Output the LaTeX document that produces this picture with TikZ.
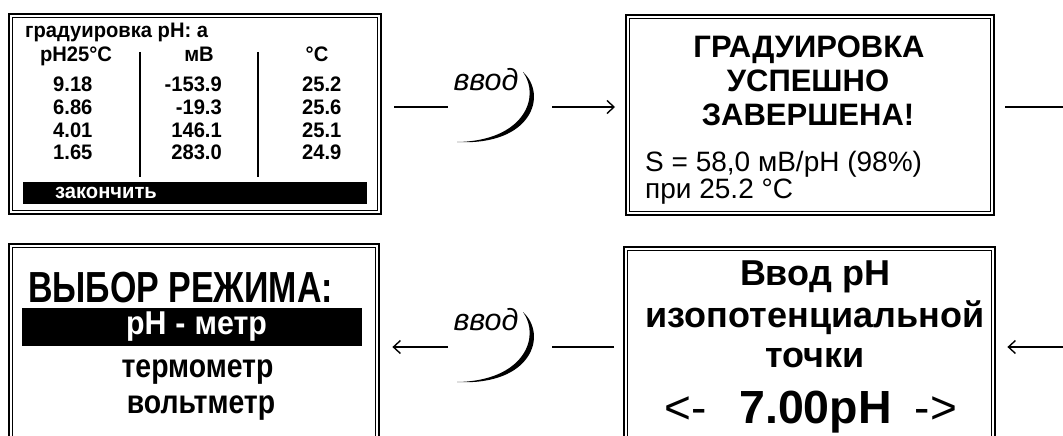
\documentclass[tikz,border=0pt]{standalone}
\usepackage{fontspec}
\setmainfont{Liberation Sans}
\newfontfamily\narrowfont[FakeStretch=0.78]{Liberation Sans}
\newfontfamily\menufont[FakeStretch=0.86]{Liberation Sans}
\newfontfamily\midfont[FakeStretch=0.92]{Liberation Sans}
\newfontfamily\tblfont[FakeStretch=0.96]{Liberation Sans}
\usetikzlibrary{arrows.meta}

\tikzset{
  screen/.style={draw, line width=2.4pt, inner sep=0pt, anchor=north west},
  inner/.style={line width=0.9pt},
  txt/.style={anchor=base, inner sep=0pt},
  tbl/.style={txt, font=\tblfont\bfseries\fontsize{21}{21}\selectfont},
  big/.style={txt, font=\bfseries\fontsize{31}{31}\selectfont},
  norm/.style={txt, anchor=base west, font=\fontsize{28}{28}\selectfont},
  title/.style={txt, font=\narrowfont\bfseries\fontsize{43.5}{43.5}\selectfont},
  menu/.style={txt, font=\menufont\bfseries\fontsize{33}{33}\selectfont},
  iso/.style={txt, font=\bfseries\fontsize{36}{36}\selectfont},
  value/.style={txt, font=\bfseries\fontsize{46.5}{46.5}\selectfont},
  key/.style={txt, font=\itshape\fontsize{30.5}{30.5}\selectfont},
  wire/.style={line width=1.4pt},
  arr/.style={wire, -{Straight Barb[length=7pt, width=13pt]}},
}

\begin{document}
\begin{tikzpicture}[x=1pt, y=-1pt]
  \useasboundingbox (0,0) rectangle (1063,436);
  \clip (0,0) rectangle (1063,436);

  % screens
  \node[screen, minimum width=372pt, minimum height=200pt] (tl) at (8,13) {};
  \node[screen, minimum width=368pt, minimum height=200pt] (tr) at (625,14) {};
  \node[screen, minimum width=370pt, minimum height=230pt] (bl) at (8,243) {};
  \node[screen, minimum width=371pt, minimum height=230pt] (br) at (623,246) {};
  \foreach \s in {tl,tr,bl,br}
    \draw[inner] ([shift={(4.5,4.5)}]\s.north west) rectangle ([shift={(-4.5,-4.5)}]\s.south east);

  % calibration table
  \node[tbl, anchor=base west] (cal) at (25,38) {градуировка pH: а};
  \node[tbl] (hph) at (76,62) {pH25°C};
  \node[tbl] (hmv) at (199,62) {мВ};
  \node[tbl] (hdeg) at (317,62) {°C};
  \foreach \a/\b/\c [count=\i] in {9.18/-153.9/25.2, 6.86/-19.3/25.6, 4.01/146.1/25.1, 1.65/283.0/24.9} {
    \node[tbl, anchor=base west] (ph\i) at (53,{69.5+22.5*\i}) {\a};
    \node[tbl, anchor=base east] (mv\i) at (222,{69.5+22.5*\i}) {\b};
    \node[tbl, anchor=base west] (t\i) at (302,{69.5+22.5*\i}) {\c};
  }
  \draw[line width=2pt] (140,52) -- (140,177);
  \draw[line width=2pt] (258,52) -- (258,177);
  \fill (23,182) rectangle (367,204);
  \node[tbl, anchor=base west, text=white] (done) at (55,198) {закончить};

  % result
  \node[big] (res1) at (809,58) {ГРАДУИРОВКА};
  \node[big] (res2) at (808,92) {УСПЕШНО};
  \node[big] (res3) at (808,125) {ЗАВЕРШЕНА!};
  \node[norm] (slope) at (645,171.5) {S = 58,0 мВ/pH (98\%)};
  \node[norm] (temp) at (645,198) {при 25.2 °C};

  % mode menu
  \node[title] (mode) at (180.5,302) {ВЫБОР РЕЖИМА:};
  \fill (22,308) rectangle (362,346);
  \node[menu, font=\midfont\bfseries\fontsize{33}{33}\selectfont, text=white] (phm) at (196.5,334) {pH\hspace{9pt}-\hspace{9pt}метр};
  \node[menu] (thm) at (197.5,377) {термометр};
  \node[menu] (vlm) at (201,413) {вольтметр};

  % isopotential point
  \node[iso] (iso1) at (815,285) {Ввод pH};
  \node[iso] (iso2) at (815,327) {изопотенциальной};
  \node[iso] (iso3) at (815,367) {точки};
  \node[value] (ipt) at (815.5,423) {7.00pH};
  \node[txt, font=\fontsize{46}{46}\selectfont] (dec) at (686,423) {<-};
  \node[txt, font=\fontsize{46}{46}\selectfont] (inc) at (936,423) {->};

  % enter key
  \foreach \dy/\n in {0/1, 240/2} {
    \begin{scope}[shift={(0,\dy)}]
      \node[key] (key\n) at (486,90) {ввод};
      \fill (523,72) .. controls (548,95) and (532,146) .. (457,142)
        .. controls (524,141) and (541,97) .. (523,72) -- cycle;
      \coordinate (k\n a) at (448,107);
      \coordinate (k\n b) at (552,107);
      \coordinate (edge\n) at (1070,107);
    \end{scope}
  }

  \draw[wire] ([xshift=12]tl.east |- k1a) -- (k1a);
  \draw[arr] (k1b) -- ([xshift=-10]tr.west |- k1b);
  \draw[wire] ([xshift=10]tr.east |- edge1) -- (edge1);
  \draw[arr] (edge2) -- ([xshift=11]br.east |- edge2);
  \draw[wire] ([xshift=-9]br.west |- k2b) -- (k2b);
  \draw[arr] (k2a) -- ([xshift=12]bl.east |- k2a);
\end{tikzpicture}
\end{document}
